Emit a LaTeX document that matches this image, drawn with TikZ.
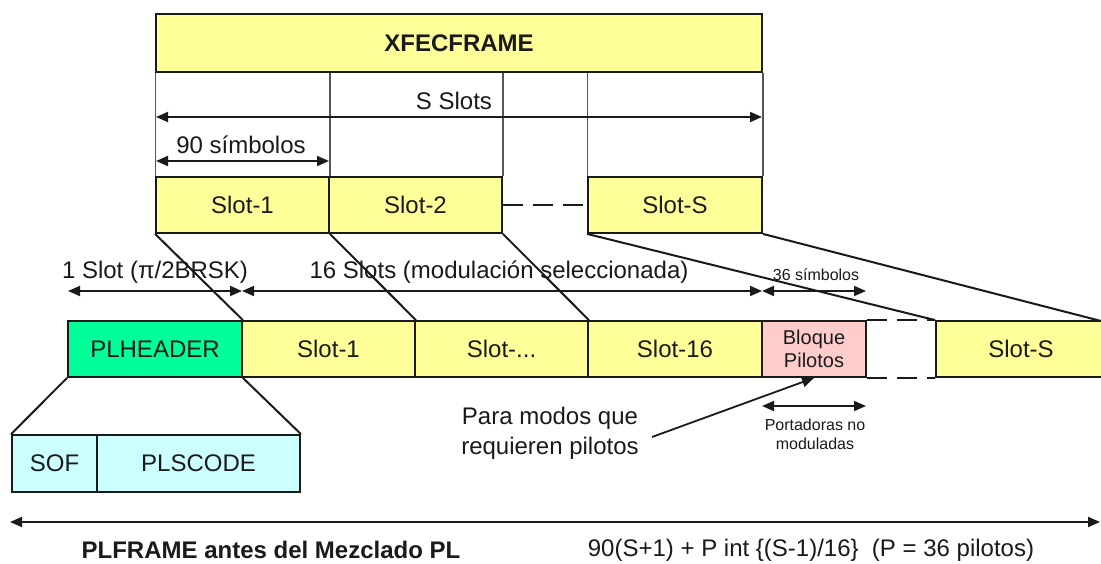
\documentclass[tikz,border=0pt]{standalone}
\usepackage{fontspec}
\setmainfont{Liberation Sans}
\usetikzlibrary{arrows.meta}

\definecolor{slotyellow}{HTML}{FFFF99}
\definecolor{hdrgreen}{HTML}{00FF99}
\definecolor{pilotpink}{HTML}{FFCCCC}
\definecolor{codecyan}{HTML}{CCFFFF}
\definecolor{ink}{HTML}{1A1A1A}
\definecolor{guide}{HTML}{555555}

\tikzset{
  box/.style={draw=ink, line width=1.8pt, inner sep=0pt, text=ink,
              font=\fontsize{24}{28}\selectfont, minimum height=56pt},
  slotbox/.style={box, fill=slotyellow},
  hdrbox/.style={box, fill=hdrgreen},
  pilotbox/.style={box, fill=pilotpink, align=center,
                   font=\fontsize{20}{23}\selectfont},
  codebox/.style={box, fill=codecyan, minimum height=57pt},
  tip/.tip={Triangle[length=12pt,width=10pt]},
  dim/.style={draw=ink, line width=1.8pt, tip-tip},
  onearrow/.style={draw=ink, line width=1.8pt, -tip},
  guideline/.style={draw=guide, line width=1.2pt},
  fan/.style={draw=ink, line width=2pt},
  gap/.style={draw=ink, line width=1.8pt, dash pattern=on 20pt off 10pt},
  lbl/.style={text=ink, inner sep=0pt, font=\fontsize{24}{28}\selectfont},
  boldlbl/.style={lbl, font=\fontsize{24}{28}\selectfont\bfseries},
  smalllbl/.style={text=ink, inner sep=0pt, align=center,
                   font=\fontsize{16}{19}\selectfont},
}

\begin{document}
\begin{tikzpicture}[x=1pt, y=-1pt]
  % page area
  \fill[white] (0,0) rectangle (1101,564);
  \useasboundingbox (0,0) rectangle (1101,564);

  % ---- XFECFRAME and its slots ----
  \node[slotbox, minimum width=606pt, minimum height=58pt,
        font=\fontsize{24}{28}\selectfont\bfseries] (xfec) at (459,43) {XFECFRAME};

  \node[slotbox, minimum width=173pt] (ts1) at (242.5,205) {Slot-1};
  \node[slotbox, minimum width=173pt] (ts2) at (415.5,205) {Slot-2};
  \node[slotbox, minimum width=174pt] (tsS) at (675,205)   {Slot-S};

  % slot boundary guides
  \draw[guideline] (xfec.south west) -- (ts1.north west);
  \draw[guideline] (ts1.north east |- xfec.south) -- (ts1.north east);
  \draw[guideline] (ts2.north east |- xfec.south) -- (ts2.north east);
  \draw[guideline] (tsS.north west |- xfec.south) -- (tsS.north west);
  \draw[guideline] (xfec.south east) -- (tsS.north east);

  \draw[gap] (ts2.east) -- (tsS.west);

  % dimensions of the XFECFRAME
  \coordinate (ssL) at (156,117);
  \coordinate (ssR) at (762,117);
  \draw[dim] (ssL) -- (ssR);
  \node[lbl] (sslots) at (454,101) {S Slots};

  \coordinate (nsL) at (156,161);
  \coordinate (nsR) at (329,161);
  \draw[dim] (nsL) -- (nsR);
  \node[lbl] (nsym) at (241,145) {90 símbolos};

  % ---- PLFRAME ----
  \node[hdrbox,   minimum width=174pt] (plh)  at (155,349)   {PLHEADER};
  \node[slotbox,  minimum width=173pt] (bs1)  at (328.5,349) {Slot-1};
  \node[slotbox,  minimum width=173pt] (bsd)  at (501.5,349) {Slot-...};
  \node[slotbox,  minimum width=174pt] (bs16) at (675,349)   {Slot-16};
  \node[pilotbox, minimum width=104pt] (pil)  at (814,349)   {Bloque\\Pilotos};
  \node[slotbox,  minimum width=180pt] (bsS)  at (1026,349)  {};
  \node[lbl] (bsSt) at (1021,349) {Slot-S};

  \draw[gap] (pil.north east) -- (bsS.north west);
  \draw[gap] (pil.south east) -- (bsS.south west);

  % slots of the XFECFRAME mapped onto the PLFRAME
  \coordinate (frameEnd) at (1101,321);
  \draw[fan] (ts1.south west) -- (plh.north east);
  \draw[fan] (ts1.south east) -- (bs1.north east);
  \draw[fan] (ts2.south east) -- (bsd.north east);
  \draw[fan] (tsS.south west) -- (bsS.north west);
  \draw[fan] (tsS.south east) -- (frameEnd);

  % lengths along the PLFRAME
  \coordinate (a0) at (68,291);
  \coordinate (a1) at (242,291);
  \coordinate (a2) at (762,291);
  \coordinate (a3) at (866,291);
  \draw[dim] (a0) -- (a1);
  \draw[dim] (a1) -- (a2);
  \draw[dim] (a2) -- (a3);
  \node[lbl] (hdrlen)  at (155,272) {1 Slot (π/2BRSK)};
  \node[lbl] (datalen) at (499,272) {16 Slots (modulación seleccionada)};
  \node[smalllbl] (pillen) at (816,275) {36 símbolos};

  % ---- PLHEADER detail ----
  \node[codebox, minimum width=85pt]  (sof)  at (54.5,463.5)  {SOF};
  \node[codebox, minimum width=203pt] (plsc) at (198.5,463.5) {PLSCODE};
  \draw[fan] (plh.south west) -- (sof.north west);
  \draw[fan] (plh.south east) -- (plsc.north east);

  % ---- pilot block notes ----
  \node[lbl, align=center, font=\fontsize{24}{30}\selectfont] (pnote) at (550,433)
       {Para modos que\\requieren pilotos};
  \coordinate (pfrom) at (652,437);
  \draw[onearrow] (pfrom) -- (pil.south);

  \coordinate (cL) at (762,406);
  \coordinate (cR) at (866,406);
  \draw[dim] (cL) -- (cR);
  \node[smalllbl] (carriers) at (815,434) {Portadoras no\\moduladas};

  % ---- total length ----
  \coordinate (tL) at (10,522);
  \coordinate (tR) at (1100,522);
  \draw[dim] (tL) -- (tR);
  \node[boldlbl] (plframe) at (271,550) {PLFRAME antes del Mezclado PL};
  \node[lbl] (formula) at (811,550) {90(S+1) + P int \{(S-1)/16\}\ \ (P = 36 pilotos)};
\end{tikzpicture}
\end{document}
